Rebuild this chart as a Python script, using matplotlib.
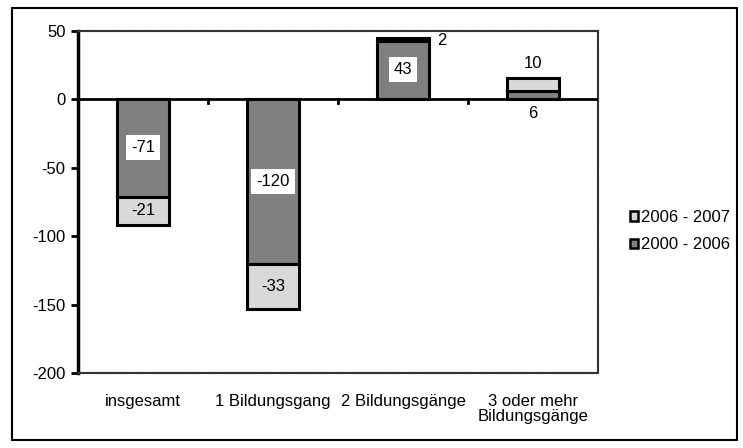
import matplotlib
matplotlib.use("Agg")
import matplotlib.pyplot as plt
from matplotlib.patches import Rectangle, Patch
import numpy as np

plt.rcParams['font.family'] = ['Liberation Sans', 'DejaVu Sans']

categories = ["insgesamt", "1 Bildungsgang", "2 Bildungsgänge", "3 oder mehr\nBildungsgänge"]
v_2000_2006 = [-71, -120, 43, 6]
v_2006_2007 = [-21, -33, 2, 10]
series_names = ["2006 - 2007", "2000 - 2006"]
yticks = [50, 0, -50, -100, -150, -200]

dark = "#808080"
light = "#d9d9d9"

fig = plt.figure(figsize=(7.43, 4.48), dpi=100)
ax = fig.add_axes([78/743, 1-373/448, (598-78)/743, (373-31)/448])

x = np.arange(len(categories))
w = 0.4
ax.bar(x, v_2000_2006, width=w, color=dark, edgecolor="black", linewidth=2.2, zorder=3)
ax.bar(x, v_2006_2007, width=w, bottom=v_2000_2006, color=light, edgecolor="black", linewidth=2.2, zorder=3)

fs = 12
for i, (a, b) in enumerate(zip(v_2000_2006, v_2006_2007)):
    if abs(a) >= 20:
        ax.text(x[i], a/2, str(a), ha="center", va="center", fontsize=fs, zorder=5,
                bbox=dict(boxstyle="square,pad=0.3", fc="white", ec="none"))
    else:
        ax.text(x[i], -4.5, str(a), ha="center", va="top", fontsize=fs, zorder=5)
    if abs(b) >= 15:
        ax.text(x[i], a + b/2, str(b), ha="center", va="center", fontsize=fs, zorder=5)
    elif abs(b) >= 5:
        ax.text(x[i], a + b + 5, str(b), ha="center", va="bottom", fontsize=fs, zorder=5)
    else:
        ax.text(x[i] + w/2 + 0.06, a + b - 2, str(b), ha="left", va="center", fontsize=fs, zorder=5)

ax.set_xlim(-0.5, len(categories) - 0.5)
ax.set_ylim(-200, 50)
ax.set_yticks(yticks)
ax.set_yticklabels([str(t) for t in yticks], fontsize=fs)
ax.tick_params(axis="y", direction="out", length=5, width=2, pad=4)

ax.set_xticks(x)
ax.set_xticklabels(categories, fontsize=fs, va="top", linespacing=1.0)
ax.tick_params(axis="x", length=0, pad=15)

ax.axhline(0, color="black", linewidth=2, zorder=4)
for xb in np.arange(0.5, len(categories) - 0.5, 1):
    ax.plot([xb, xb], [0, -2.5], color="black", linewidth=2, zorder=4, clip_on=False)

for s in ["top", "right", "bottom"]:
    ax.spines[s].set_linestyle((0, (1, 0.5)))
    ax.spines[s].set_linewidth(1.5)
    ax.spines[s].set_color("#333333")
ax.spines["left"].set_linewidth(2.5)
ax.spines["left"].set_color("black")

handles = [Patch(facecolor=light, edgecolor="black", linewidth=1.8),
           Patch(facecolor=dark, edgecolor="black", linewidth=1.8)]
fig.legend(handles, series_names, loc="center left", bbox_to_anchor=(630/743, 1-231/448),
           frameon=False, fontsize=fs, handlelength=0.5, handleheight=0.5,
           handletextpad=0.15, labelspacing=0.75, borderpad=0, borderaxespad=0)

fig.add_artist(Rectangle((12/743, 8/448), (737-12)/743, (440-8)/448, transform=fig.transFigure,
                         fill=False, edgecolor="black", linewidth=1.5))

fig.savefig("out.png", dpi=100)
